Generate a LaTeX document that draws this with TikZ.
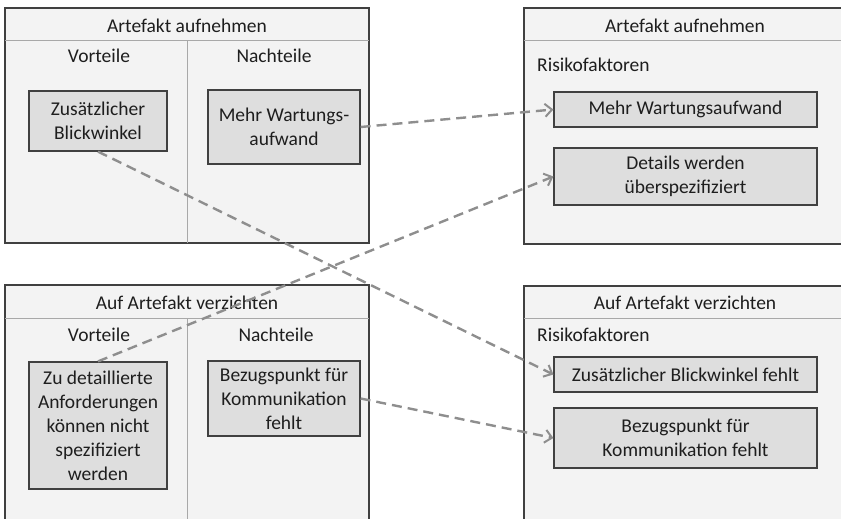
\documentclass[tikz,border=0pt]{standalone}
\usepackage{fontspec}
\setmainfont{Carlito}
\usetikzlibrary{arrows.meta}
\definecolor{panelfill}{HTML}{F3F3F3}
\definecolor{boxfill}{HTML}{DEDEDE}
\definecolor{panelline}{HTML}{404040}
\definecolor{innerline}{HTML}{A8A8A8}
\definecolor{conncol}{HTML}{8E8E8E}
\definecolor{txt}{HTML}{1E1E1E}
\begin{document}
\begin{tikzpicture}[x=1pt,y=-1pt,
  every node/.style={font=\fontsize{19.5}{24}\selectfont, text=txt},
  panel/.style={fill=panelfill, draw=panelline, line width=1.5pt},
  inner/.style={draw=innerline, line width=1pt},
  item/.style={draw=panelline, fill=boxfill, line width=1.2pt, align=center, inner sep=2pt},
  lbl/.style={anchor=base, inner sep=0pt},
  conn/.style={draw=conncol, line width=2.4pt, dash pattern=on 10pt off 6pt,
    -{Straight Barb[length=7pt,width=13pt,line width=2pt]}}]
\clip (0,0) rectangle (841,519);
% panels
\draw[panel] (5,8) rectangle (369,243);
\draw[inner] (5,41) -- (369,41) (187,41) -- (187,243);
\draw[panel] (524,8) rectangle (846,244);
\draw[inner] (524,41) -- (846,41);
\draw[panel] (5,285) rectangle (369,540);
\draw[inner] (5,318) -- (369,318) (187,318) -- (187,540);
\draw[panel] (524,286) rectangle (846,540);
\draw[inner] (524,318) -- (846,318);
% titles
\node[lbl] (t1) at (187,33) {Artefakt aufnehmen};
\node[lbl] (v1) at (99,63) {Vorteile};
\node[lbl] (n1) at (274,63) {Nachteile};
\node[lbl] (t2) at (685,33) {Artefakt aufnehmen};
\node[lbl, anchor=base west] (r2) at (537,72) {Risikofaktoren};
\node[lbl] (t3) at (187,309) {Auf Artefakt verzichten};
\node[lbl] (v3) at (99,341) {Vorteile};
\node[lbl] (n3) at (276,341) {Nachteile};
\node[lbl] (t4) at (685,309) {Auf Artefakt verzichten};
\node[lbl, anchor=base west] (r4) at (537,341) {Risikofaktoren};
% boxes
\node[item, minimum width=138pt, minimum height=60pt] (zb) at (98,121) {Zusätzlicher\\Blickwinkel};
\node[item, minimum width=152pt, minimum height=74pt] (mw) at (284,127) {Mehr Wartungs-\\aufwand};
\node[item, minimum width=263pt, minimum height=35pt] (rmw) at (685.5,109.5) {Mehr Wartungsaufwand};
\node[item, minimum width=263pt, minimum height=57pt] (dw) at (685.5,176.5) {Details werden\\überspezifiziert};
\node[item, minimum width=138pt, minimum height=127pt] (zd) at (98,425.5) {Zu detaillierte\\Anforderungen\\können nicht\\spezifiziert\\werden};
\node[item, minimum width=152pt, minimum height=75pt] (bk) at (284,398.5) {Bezugspunkt für\\Kommunikation\\fehlt};
\node[item, minimum width=263pt, minimum height=35pt] (rzb) at (685.5,374.5) {Zusätzlicher Blickwinkel fehlt};
\node[item, minimum width=263pt, minimum height=60pt] (rbk) at (685.5,438) {Bezugspunkt für\\Kommunikation fehlt};
% connectors
\draw[conn] (mw.east) -- (rmw.west);
\draw[conn] (zb.south) -- (rzb.west);
\draw[conn] (zd.north) -- (dw.west);
\draw[conn] (bk.east) -- (rbk.west);
\end{tikzpicture}
\end{document}
